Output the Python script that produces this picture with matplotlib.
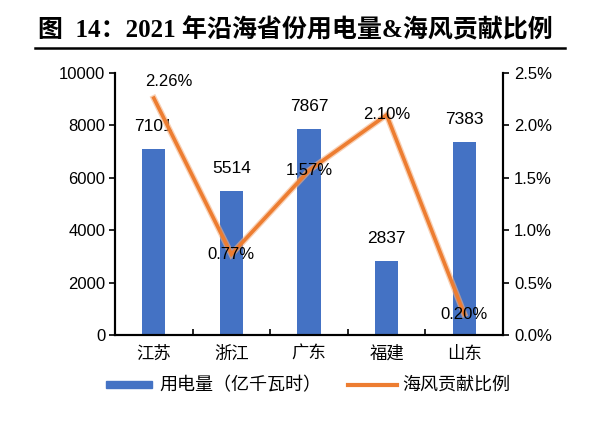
import numpy as np
import matplotlib
matplotlib.use("Agg")
from matplotlib import pyplot as plt

provinces = ["江苏", "浙江", "广东", "福建", "山东"]
power_use = [7101, 5514, 7867, 2837, 7383]
wind_share = [2.26, 0.77, 1.57, 2.10, 0.20]
left_ticks = [0, 2000, 4000, 6000, 8000, 10000]
right_ticks = [0.0, 0.5, 1.0, 1.5, 2.0, 2.5]

CJK = ["Noto Sans CJK SC", "DejaVu Sans"]
NUM = ["Liberation Sans", "Noto Sans CJK SC"]
BLUE = "#4472C4"
ORANGE = "#ED7D31"

fig = plt.figure(figsize=(6, 4.25), dpi=100)
ax = fig.add_axes([0.1917, 0.2118, 0.6467, 0.6165])
ax2 = ax.twinx()

x = np.arange(len(provinces))
ax.bar(x, power_use, width=0.30, color=BLUE, zorder=2)
for xi, v in zip(x, power_use):
    ax.annotate(str(v), (xi, v), xytext=(0, 16), textcoords="offset points",
                ha="center", va="center", fontsize=12.5, family=NUM, zorder=5)

ax2.plot(x, wind_share, color="#F4B183", lw=4.5, alpha=0.6, zorder=3,
         solid_joinstyle="miter")
ax2.plot(x, wind_share, color=ORANGE, lw=2.6, zorder=4, solid_joinstyle="miter")
# label offsets in points
offs = [(11, 12), (0, 0), (0, 0), (0, 0), (0, 0)]
for xi, v, (dx, dy) in zip(x, wind_share, offs):
    ax2.annotate(f"{v:.2f}%", (xi, v), xytext=(dx, dy), textcoords="offset points",
                 ha="center", va="center", fontsize=12, family=NUM, zorder=6)

ax.set_xlim(-0.5, 4.5)
ax.set_ylim(0, 10000)
ax2.set_ylim(0, 2.5)
ax.set_yticks(left_ticks)
ax.set_yticklabels([str(t) for t in left_ticks], family=NUM, fontsize=12)
ax2.set_yticks(right_ticks)
ax2.set_yticklabels([f"{t:.1f}%" for t in right_ticks], family=NUM, fontsize=12)

ax.set_xticks(np.arange(-0.5, 5.0, 1.0))
ax.set_xticklabels([])
ax.set_xticks(x, minor=True)
ax.set_xticklabels(provinces, minor=True, family=CJK, fontsize=12.5)
ax.tick_params(axis="x", which="major", direction="in", length=4, width=1.2)
ax.tick_params(axis="x", which="minor", length=0, pad=7)
ax.tick_params(axis="y", direction="out", length=4, width=1.2, pad=3)
ax2.tick_params(axis="y", direction="out", length=4, width=1.2, pad=4)

for a in (ax, ax2):
    a.spines["top"].set_visible(False)
    for s in ("left", "right", "bottom"):
        a.spines[s].set_linewidth(1.5)
        a.spines[s].set_color("black")

# legend drawn by hand in figure coords
fig.patches.append(plt.Rectangle((106 / 600, 1 - 388 / 425), 46 / 600, 7 / 425,
                                 transform=fig.transFigure, color=BLUE))
fig.lines.append(plt.Line2D([348 / 600, 397 / 600], [1 - 385 / 425] * 2,
                            transform=fig.transFigure, color=ORANGE, lw=3))
fig.text(159 / 600, 1 - 385 / 425, "用电量（亿千瓦时）", family=CJK, fontsize=13,
         va="center", ha="left")
fig.text(402 / 600, 1 - 385 / 425, "海风贡献比例", family=CJK, fontsize=13,
         va="center", ha="left")

# title + rule
fig.text(38 / 600, 1 - 30 / 425, "图  14：2021 年沿海省份用电量&海风贡献比例",
         family=["Liberation Serif", "Noto Sans CJK SC"], fontweight="bold",
         fontsize=18, va="center", ha="left")
fig.lines.append(plt.Line2D([35 / 600, 565 / 600], [1 - 48 / 425] * 2,
                            transform=fig.transFigure, color="black", lw=1.8))

fig.savefig("out.png", dpi=100)
